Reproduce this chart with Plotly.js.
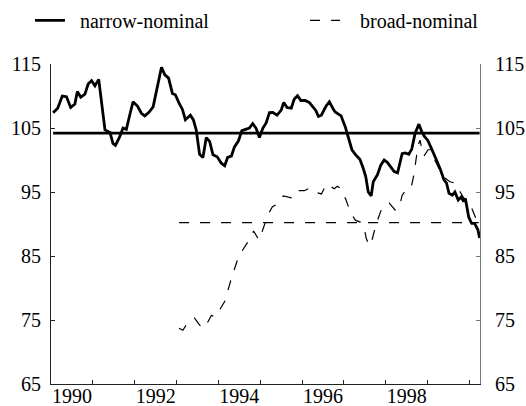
<!DOCTYPE html>
<html>
<head>
<meta charset="utf-8">
<script src="https://cdn.plot.ly/plotly-3.0.1.min.js"></script>
<style>html,body{margin:0;padding:0;background:#fff}#chart{width:526px;height:406px}</style>
</head>
<body>
<div id="chart"></div>
<script>
// narrow-nominal (decimal years, index values)
var narrowX = [1990.05,1990.16,1990.27,1990.37,1990.47,1990.57,1990.63,1990.71,1990.81,1990.89,1990.97,1991.05,1991.14,1991.25,1991.29,1991.41,1991.48,1991.54,1991.64,1991.72,1991.80,1991.88,1991.96,1992.07,1992.16,1992.24,1992.34,1992.44,1992.52,1992.64,1992.72,1992.81,1992.90,1992.97,1993.06,1993.14,1993.21,1993.33,1993.40,1993.47,1993.55,1993.63,1993.71,1993.79,1993.87,1993.97,1994.07,1994.15,1994.22,1994.31,1994.38,1994.48,1994.56,1994.66,1994.74,1994.82,1994.90,1994.98,1995.06,1995.14,1995.22,1995.30,1995.40,1995.50,1995.56,1995.64,1995.74,1995.81,1995.89,1995.97,1996.07,1996.17,1996.25,1996.33,1996.39,1996.46,1996.57,1996.65,1996.75,1996.79,1996.93,1997.03,1997.11,1997.19,1997.28,1997.38,1997.46,1997.52,1997.58,1997.65,1997.70,1997.80,1997.88,1997.96,1998.04,1998.12,1998.20,1998.28,1998.33,1998.39,1998.46,1998.55,1998.62,1998.70,1998.79,1998.86,1998.93,1999.00,1999.07,1999.15,1999.23,1999.31,1999.39,1999.45,1999.51,1999.59,1999.65,1999.73,1999.80,1999.86,1999.90,1999.98,2000.05,2000.12,2000.20,2000.24];
var narrowY = [107.4,108.1,110.0,109.9,108.2,108.75,110.7,109.8,110.3,111.9,112.4,111.6,112.6,107.3,104.7,104.3,102.6,102.3,103.6,105.0,104.8,107.0,109.1,108.4,107.3,106.9,107.45,108.3,110.7,114.5,113.3,112.8,110.4,110.2,108.9,107.9,106.3,107.0,106.3,104.7,100.9,100.4,103.5,102.9,100.8,100.5,99.5,99.1,100.4,100.6,102.0,103.0,104.6,104.8,105.0,105.7,104.95,103.5,104.95,105.8,107.4,107.45,107.0,107.8,109.0,108.2,108.1,109.5,110.05,109.3,109.3,109.0,108.4,107.7,106.8,107.0,108.4,109.1,107.9,107.5,106.9,105.2,103.4,101.6,100.8,100.1,98.7,97.4,95.0,94.4,96.6,97.7,99.2,100.0,99.6,98.9,98.2,98.0,99.2,101.0,101.1,100.9,101.7,104.2,105.6,104.4,103.6,103.1,102.1,101.0,99.7,98.4,96.9,96.4,94.8,94.5,95.0,93.75,94.2,93.5,94.0,91.1,90.1,90.1,89.1,87.8];

// broad-nominal
var broadX = [1993.06,1993.15,1993.23,1993.43,1993.55,1993.67,1993.83,1993.93,1994.15,1994.31,1994.48,1994.65,1994.78,1994.84,1994.97,1995.05,1995.18,1995.29,1995.46,1995.55,1995.74,1995.84,1996.05,1996.17,1996.29,1996.46,1996.58,1996.77,1996.84,1996.93,1997.05,1997.15,1997.27,1997.39,1997.48,1997.53,1997.60,1997.67,1997.72,1997.77,1997.89,1997.98,1998.08,1998.22,1998.32,1998.39,1998.48,1998.60,1998.67,1998.72,1998.77,1998.82,1998.86,1998.91,1999.01,1999.08,1999.17,1999.29,1999.41,1999.53,1999.65,1999.75,1999.82,1999.89,1999.98,2000.05,2000.15,2000.22];
var broadY = [73.7,73.4,74.2,75.3,74.2,73.75,75.7,75.5,77.9,81.5,84.9,86.7,88.0,88.9,87.5,88.9,91.4,92.7,93.3,94.4,94.1,95.2,95.2,95.6,95.0,94.7,96.25,95.5,95.9,95.5,93.75,91.9,90.6,90.3,89.5,87.8,86.6,87.5,88.75,90.0,92.2,93.0,93.3,92.2,92.5,94.5,95.3,95.5,97.7,99.7,102.3,103.1,101.6,100.6,101.6,101.6,100.0,98.4,97.2,96.6,96.4,95.3,94.5,93.75,93.0,92.5,90.9,89.8];

// period averages
var narrowMean = 104.2;
var broadMean = 90.2;

// axis labels / ticks
var yTicks = [65,75,85,95,105,115];
var yearTicks = [1991,1992,1993,1994,1995,1996,1997,1998,1999,2000];
var xLabelPos = [1990.5,1992.5,1994.5,1996.5,1998.5];
var xLabels = ['1990','1992','1994','1996','1998'];

var FONT = 'Times New Roman';
var NB = '\u00a0';

var traces = [
  {x: narrowX, y: narrowY, type: 'scatter', mode: 'lines', name: NB + NB + 'narrow-nominal', legend: 'legend',
   line: {color: '#000', width: 2.8}},
  {x: broadX, y: broadY, type: 'scatter', mode: 'lines', name: NB + NB + NB + 'broad-nominal', legend: 'legend2',
   line: {color: '#000', width: 1.2, dash: '10px,11px'}},
  {x: [narrowX[0], narrowX[narrowX.length-1]], y: [narrowMean, narrowMean], type: 'scatter', mode: 'lines',
   yaxis: 'y2', showlegend: false, hoverinfo: 'skip', line: {color: '#000', width: 2.8}},
  {x: [broadX[0], broadX[broadX.length-1]], y: [broadMean, broadMean], type: 'scatter', mode: 'lines',
   xaxis: 'x2', showlegend: false, hoverinfo: 'skip', line: {color: '#000', width: 1.2, dash: '10px,11px'}}
];

var layout = {
  width: 526, height: 406,
  margin: {l: 51, r: 46, t: 64, b: 22, pad: 0},
  paper_bgcolor: '#fff', plot_bgcolor: '#fff',
  font: {family: FONT, size: 20, color: '#000'},
  showlegend: true,
  legend: {orientation: 'h', xref: 'container', yref: 'container', x: 0.057, y: 0.95,
           xanchor: 'left', yanchor: 'middle',
           font: {family: FONT, size: 20, color: '#000'}, bgcolor: 'rgba(0,0,0,0)'},
  legend2: {orientation: 'h', xref: 'container', yref: 'container', x: 0.58, y: 0.95,
           xanchor: 'left', yanchor: 'middle',
           font: {family: FONT, size: 20, color: '#000'}, bgcolor: 'rgba(0,0,0,0)'},
  xaxis: {range: [1990, 2000.25], showgrid: false, zeroline: false, showline: true, linecolor: '#222', linewidth: 1,
          tickmode: 'array', tickvals: xLabelPos, ticktext: xLabels, ticks: '',
          ticklabelstandoff: -6, tickfont: {family: FONT, size: 20}, fixedrange: true},
  xaxis2: {matches: 'x', overlaying: 'x', anchor: 'y', side: 'bottom', showgrid: false, zeroline: false, showline: false,
           tickmode: 'array', tickvals: yearTicks, ticks: 'inside', ticklen: 4, tickcolor: '#222',
           showticklabels: false, fixedrange: true},
  yaxis: {range: [65, 115], showgrid: false, zeroline: false, showline: true, linecolor: '#222', linewidth: 1,
          tickmode: 'array', tickvals: yTicks, ticks: 'inside', ticklen: 4, tickcolor: '#222',
          ticklabelstandoff: 5, tickfont: {family: FONT, size: 20}, fixedrange: true},
  yaxis2: {range: [65, 115], overlaying: 'y', side: 'right', showgrid: false, zeroline: false, showline: true,
           linecolor: '#777', linewidth: 1, tickmode: 'array', tickvals: yTicks, ticks: 'inside', ticklen: 4,
           tickcolor: '#777', ticklabelstandoff: 10, tickfont: {family: FONT, size: 20}, fixedrange: true}
};

Plotly.newPlot('chart', traces, layout, {staticPlot: true, displayModeBar: false});
</script>
</body>
</html>
